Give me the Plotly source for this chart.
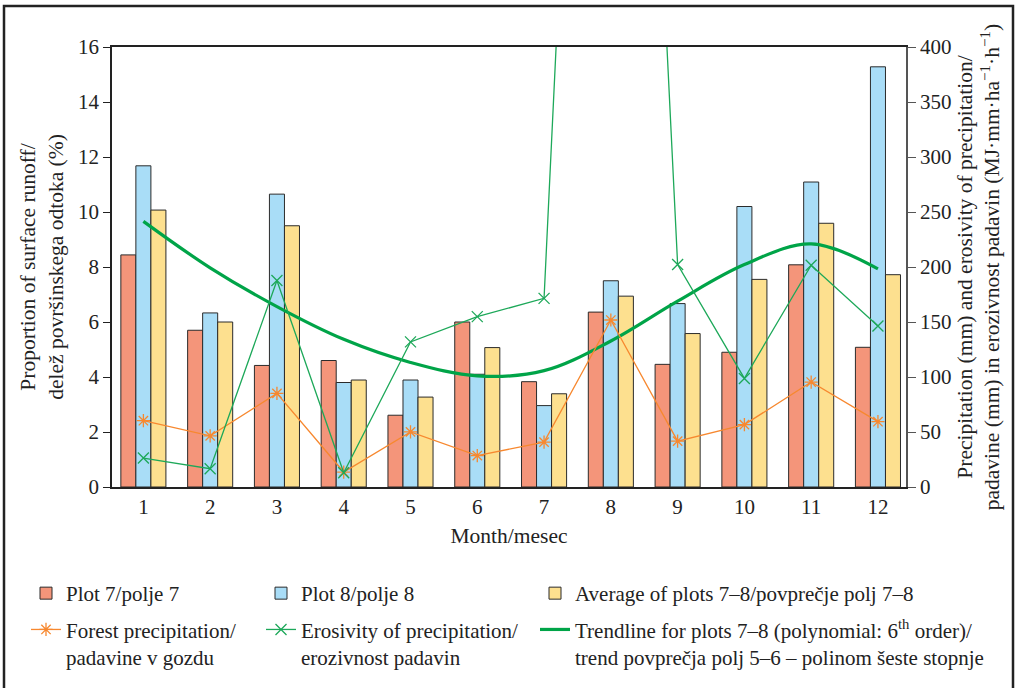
import plotly.graph_objects as go

months = list(range(1, 13))

# runoff share (%), left axis
plot7 = [8.44, 5.70, 4.42, 4.60, 2.61, 6.00, 3.83, 6.36, 4.46, 4.90, 8.08, 5.08]
plot8 = [11.68, 6.33, 10.65, 3.80, 3.89, 4.10, 2.96, 7.50, 6.67, 10.20, 11.09, 15.28]
plots_avg = [10.07, 6.00, 9.50, 3.89, 3.27, 5.07, 3.39, 6.94, 5.58, 7.55, 9.59, 7.72]
trend = [9.66, 7.97, 6.56, 5.37, 4.53, 4.04, 4.23, 5.31, 6.76, 8.09, 8.84, 7.93]

# precipitation (mm) and erosivity, right axis
forest_precip = [60.3, 46.5, 85.1, 13.6, 50.1, 28.6, 40.8, 151.8, 41.7, 56.7, 95.4, 59.4]
erosivity = [26.3, 16.6, 187.8, 13.0, 131.9, 154.9, 171.5, 1440, 202.3, 98.7, 201.6, 146.4]

FONT = "Liberation Serif"
OUTLINE = "#2b2b2b"

W, H = 1017, 688
L, R, T, B = 112, 111, 47, 200
pw, ph = W - L - R, H - T - B


def px_x(x):
    return (x - L) / pw


def px_y(y):
    return (H - B - y) / ph


fig = go.Figure()

fig.add_trace(go.Bar(x=months, y=plot7, name="Plot 7/polje 7",
                     marker=dict(color="#F4957A", line=dict(color=OUTLINE, width=1)),
                     legend="legend", legendgroup="a"))
fig.add_trace(go.Bar(x=months, y=plot8, name="Plot 8/polje 8",
                     marker=dict(color="#A9DDF7", line=dict(color=OUTLINE, width=1)),
                     legend="legend2", legendgroup="b"))
fig.add_trace(go.Bar(x=months, y=plots_avg, name="Average of plots 7–8/povprečje polj 7–8",
                     marker=dict(color="#FDE08F", line=dict(color=OUTLINE, width=1)),
                     legend="legend3", legendgroup="c"))

fig.add_trace(go.Scatter(x=months, y=trend, mode="lines", yaxis="y",
                         line=dict(color="#00A448", width=3.2, shape="spline"),
                         name="Trendline for plots 7–8 (polynomial: 6<sup>th</sup> order)/<br>"
                              "trend povprečja polj 5–6 – polinom šeste stopnje",
                         legend="legend3", legendgroup="f"))

fig.add_trace(go.Scatter(x=months, y=forest_precip, mode="lines+markers", yaxis="y2",
                         line=dict(color="#F7882F", width=1.3),
                         marker=dict(symbol="asterisk-open", size=11, color="#F7882F",
                                     line=dict(color="#F7882F", width=1.3)),
                         name="Forest precipitation/<br>padavine v gozdu",
                         legend="legend", legendgroup="d"))
fig.add_trace(go.Scatter(x=months, y=erosivity, mode="lines+markers", yaxis="y2",
                         line=dict(color="#1DA859", width=1.3),
                         marker=dict(symbol="x-thin-open", size=11, color="#1DA859",
                                     line=dict(color="#1DA859", width=1.3)),
                         name="Erosivity of precipitation/<br>erozivnost padavin",
                         legend="legend2", legendgroup="e"))

legend_common = dict(orientation="v", xanchor="left", yanchor="top", valign="top",
                     traceorder="grouped", tracegroupgap=6,
                     font=dict(family=FONT, size=21, color="#222"),
                     bgcolor="rgba(0,0,0,0)")

fig.update_layout(
    width=W, height=H,
    margin=dict(l=L, r=R, t=T, b=B),
    paper_bgcolor="white", plot_bgcolor="white",
    font=dict(family=FONT, size=21, color="#222"),
    barmode="group", bargap=0.325, bargroupgap=0,
    showlegend=True,
    legend=dict(x=px_x(26), y=px_y(573), **legend_common),
    legend2=dict(x=px_x(261), y=px_y(573), **legend_common),
    legend3=dict(x=px_x(535), y=px_y(573), **legend_common),
    xaxis=dict(range=[0.53, 12.42], tickvals=months, ticks="", showgrid=False,
               showline=True, linecolor="#222", linewidth=1.5, mirror=True,
               tickfont=dict(size=21), zeroline=False,
               title=dict(text="Month/mesec", font=dict(size=21.5), standoff=10)),
    yaxis=dict(range=[0, 16], dtick=2, ticks="outside", ticklen=7, tickcolor="#222",
               showgrid=False, showline=True, linecolor="#222", linewidth=1.5,
               zeroline=False, tickfont=dict(size=21),
               title=dict(text="Proportion of surface runoff/<br>delež površinskega odtoka (%)",
                          font=dict(size=21.5), standoff=9)),
    yaxis2=dict(range=[0, 400], dtick=50, overlaying="y", side="right",
                ticks="outside", ticklen=8, tickcolor="#555",
                showgrid=False, showline=True, linecolor="#555", linewidth=1.5,
                zeroline=False, tickfont=dict(size=21),
                title=dict(text="Precipitation (mm) and erosivity of precipitation/<br>"
                                "padavine (mm) in erozivnost padavin (MJ·mm·ha<sup>−1</sup>·h<sup>−1</sup>)",
                           font=dict(size=21.5), standoff=6)),
    shapes=[dict(type="rect", xref="paper", yref="paper",
                 x0=px_x(4), x1=px_x(1013), y0=px_y(695), y1=px_y(6),
                 line=dict(color="#222", width=2.5), layer="above")],
)

fig.write_html("out.html", config={"displayModeBar": False},
               post_script="document.body.style.margin='0';")
